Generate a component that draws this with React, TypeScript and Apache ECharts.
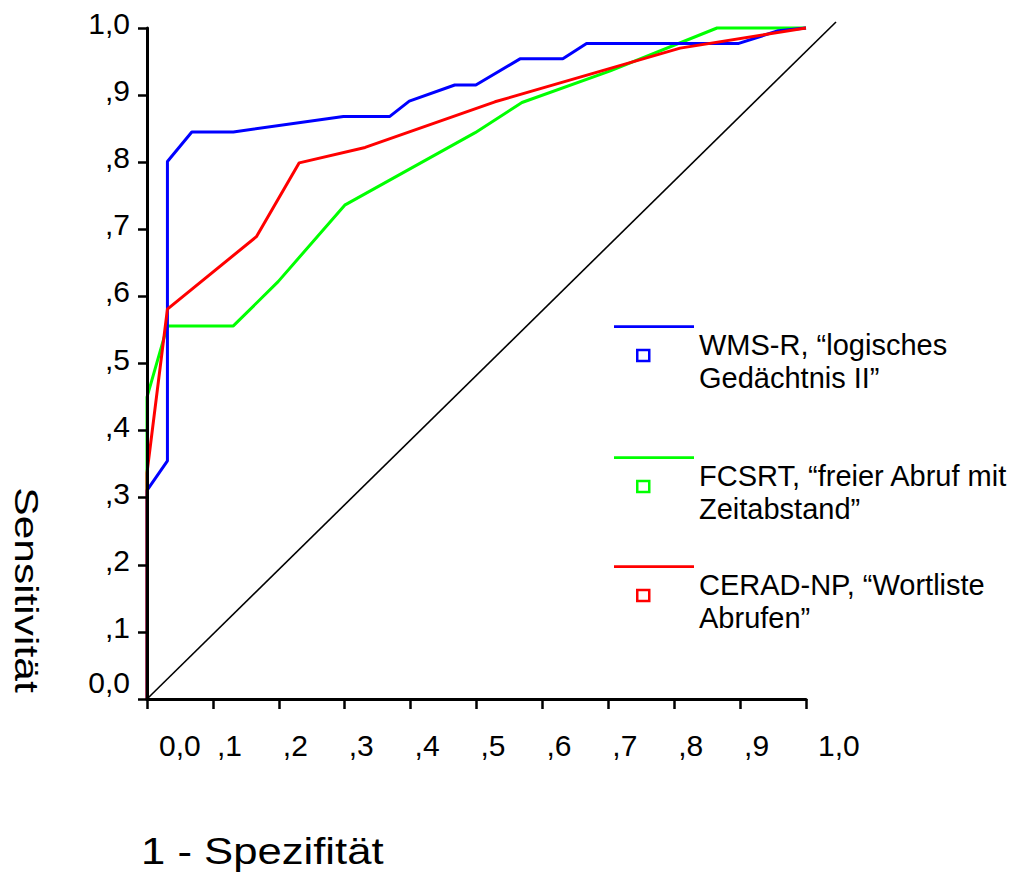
import React, { useEffect, useRef } from "react";
import * as echarts from "echarts";

const tickLabels = ["0,0", ",1", ",2", ",3", ",4", ",5", ",6", ",7", ",8", ",9", "1,0"];

const seriesNames = [
  "WMS-R, “logisches\nGedächtnis II”",
  "FCSRT, “freier Abruf mit\nZeitabstand”",
  "CERAD-NP, “Wortliste\nAbrufen”",
];
const seriesColors = ["#0000ff", "#00ff00", "#ff0000"];

const wmsX = [0, 0, 0.031, 0.031, 0.068, 0.131, 0.298, 0.368, 0.398, 0.467, 0.499, 0.566, 0.631, 0.667, 0.898, 0.958, 1];
const wmsY = [0, 0.311, 0.355, 0.801, 0.845, 0.845, 0.868, 0.868, 0.891, 0.915, 0.915, 0.954, 0.954, 0.977, 0.977, 0.996, 1];

const fcsrtX = [0, 0, 0.031, 0.131, 0.199, 0.3, 0.498, 0.569, 0.703, 0.865, 1];
const fcsrtY = [0, 0.45, 0.556, 0.556, 0.622, 0.736, 0.844, 0.889, 0.936, 1.0, 1.0];

const ceradX = [0, 0, 0.031, 0.166, 0.231, 0.331, 0.528, 0.809, 1];
const ceradY = [0, 0.337, 0.581, 0.689, 0.799, 0.822, 0.89, 0.97, 1];

// reference diagonal, drawn past the plotted range as in the original
const refX = [0, 1.0455];
const refY = [0, 1.009];

const xTitle = "1 - Spezifität";
const yTitle = "Sensitivität";

const FONT = "'Liberation Sans', Arial, Helvetica, sans-serif";

const zip = (xs: number[], ys: number[]) => xs.map((x, i) => [x, ys[i]]);

// line on top, small hollow square below, invisible zero-area stub to set the box height
const legendIcon =
  "path://M0 0H80V2.8H0Z M22 23.5H36.5V37H22Z M24.5 26V34.5H34V26Z M79.99 72H80V72Z";

const legendTops = [325.3, 456.3, 565.3];

// plot box
const PL = 147, PT = 28, PW = 659, PH = 671;

export default function App() {
  const ref = useRef<HTMLDivElement>(null);

  useEffect(() => {
    if (!ref.current) return;
    const chart = echarts.init(ref.current, undefined, { renderer: "svg" });
    const label = (v: number) => tickLabels[Math.round(v * 10)] ?? "";
    const refXMax = refX[refX.length - 1];
    const refYMax = refY[refY.length - 1];

    const option: any = {
      animation: false,
      backgroundColor: "#ffffff",
      grid: [
        { left: PL, top: PT, width: PW, height: PH, containLabel: false },
        {
          left: PL,
          top: PT + PH - refYMax * PH,
          width: refXMax * PW,
          height: refYMax * PH,
          containLabel: false,
        },
      ],
      xAxis: [
        {
          type: "value",
          gridIndex: 0,
          min: 0,
          max: 1,
          interval: 0.1,
          z: 5,
          splitLine: { show: false },
          axisLine: { show: true, onZero: false, lineStyle: { color: "#000", width: 3 } },
          axisTick: { show: true, length: 10, lineStyle: { color: "#000", width: 2.5 } },
          axisLabel: {
            margin: 46,
            align: "left",
            verticalAlign: "middle",
            formatter: (v: number) => {
              const t = label(v);
              return v < 0.05 || v > 0.95 ? `{b|${t}}` : `{a|${t}}`;
            },
            rich: {
              a: { fontFamily: FONT, fontSize: 30, color: "#000", padding: [0, 0, 0, 4] },
              b: { fontFamily: FONT, fontSize: 30, color: "#000", padding: [0, 0, 0, 12] },
            },
          },
        },
        { type: "value", gridIndex: 1, min: 0, max: refXMax, show: false },
      ],
      yAxis: [
        {
          type: "value",
          gridIndex: 0,
          min: 0,
          max: 1,
          interval: 0.1,
          z: 5,
          splitLine: { show: false },
          axisLine: { show: true, onZero: false, lineStyle: { color: "#000", width: 3 } },
          axisTick: { show: true, length: 9, lineStyle: { color: "#000", width: 2.5 } },
          axisLabel: {
            margin: 17,
            align: "right",
            verticalAlign: "middle",
            formatter: (v: number) => {
              const t = label(v);
              return v < 0.05 ? `{z|${t}}` : `{n|${t}}`;
            },
            rich: {
              n: { fontFamily: FONT, fontSize: 30, color: "#000", padding: [0, 0, 9, 0] },
              z: { fontFamily: FONT, fontSize: 30, color: "#000", padding: [0, 0, 34, 0] },
            },
          },
        },
        { type: "value", gridIndex: 1, min: 0, max: refYMax, show: false },
      ],
      legend: seriesNames.map((name, i) => ({
        data: [name],
        left: 614,
        top: legendTops[i],
        padding: 0,
        orient: "vertical",
        icon: legendIcon,
        itemWidth: 80,
        itemHeight: 72,
        itemTextGap: 16,
        selectedMode: false,
        itemStyle: { borderWidth: 0 },
        textStyle: {
          fontFamily: FONT,
          fontSize: 29,
          color: "#000",
          lineHeight: 33,
        },
      })),
      graphic: [
        {
          type: "text",
          x: 141,
          y: 851,
          scaleX: 1.18,
          style: {
            text: xTitle,
            font: `37px ${FONT}`,
            fill: "#000",
            textAlign: "left",
            align: "left",
            textVerticalAlign: "middle",
            verticalAlign: "middle",
          },
        },
        {
          type: "text",
          x: 27,
          y: 590,
          rotation: -Math.PI / 2,
          scaleX: 1.25,
          style: {
            text: yTitle,
            font: `34px ${FONT}`,
            fill: "#000",
            textAlign: "center",
            align: "center",
            textVerticalAlign: "middle",
            verticalAlign: "middle",
          },
        },
      ],
      series: [
        {
          name: "Bezugslinie",
          type: "line",
          xAxisIndex: 1,
          yAxisIndex: 1,
          data: zip(refX, refY),
          symbol: "none",
          clip: false,
          silent: true,
          lineStyle: { color: "#000", width: 1.6 },
          z: 1,
        },
        {
          name: seriesNames[0],
          type: "line",
          data: zip(wmsX, wmsY),
          symbol: "none",
          clip: false,
          color: seriesColors[0],
          lineStyle: { color: seriesColors[0], width: 3 },
          z: 3,
        },
        {
          name: seriesNames[1],
          type: "line",
          data: zip(fcsrtX, fcsrtY),
          symbol: "none",
          clip: false,
          color: seriesColors[1],
          lineStyle: { color: seriesColors[1], width: 3 },
          z: 2,
        },
        {
          name: seriesNames[2],
          type: "line",
          data: zip(ceradX, ceradY),
          symbol: "none",
          clip: false,
          color: seriesColors[2],
          lineStyle: { color: seriesColors[2], width: 3 },
          z: 4,
        },
      ],
    };

    chart.setOption(option);
    return () => chart.dispose();
  }, []);

  return (
    <div
      ref={ref}
      style={{ position: "fixed", left: 0, top: 0, width: 1031, height: 877, background: "#fff" }}
    />
  );
}
